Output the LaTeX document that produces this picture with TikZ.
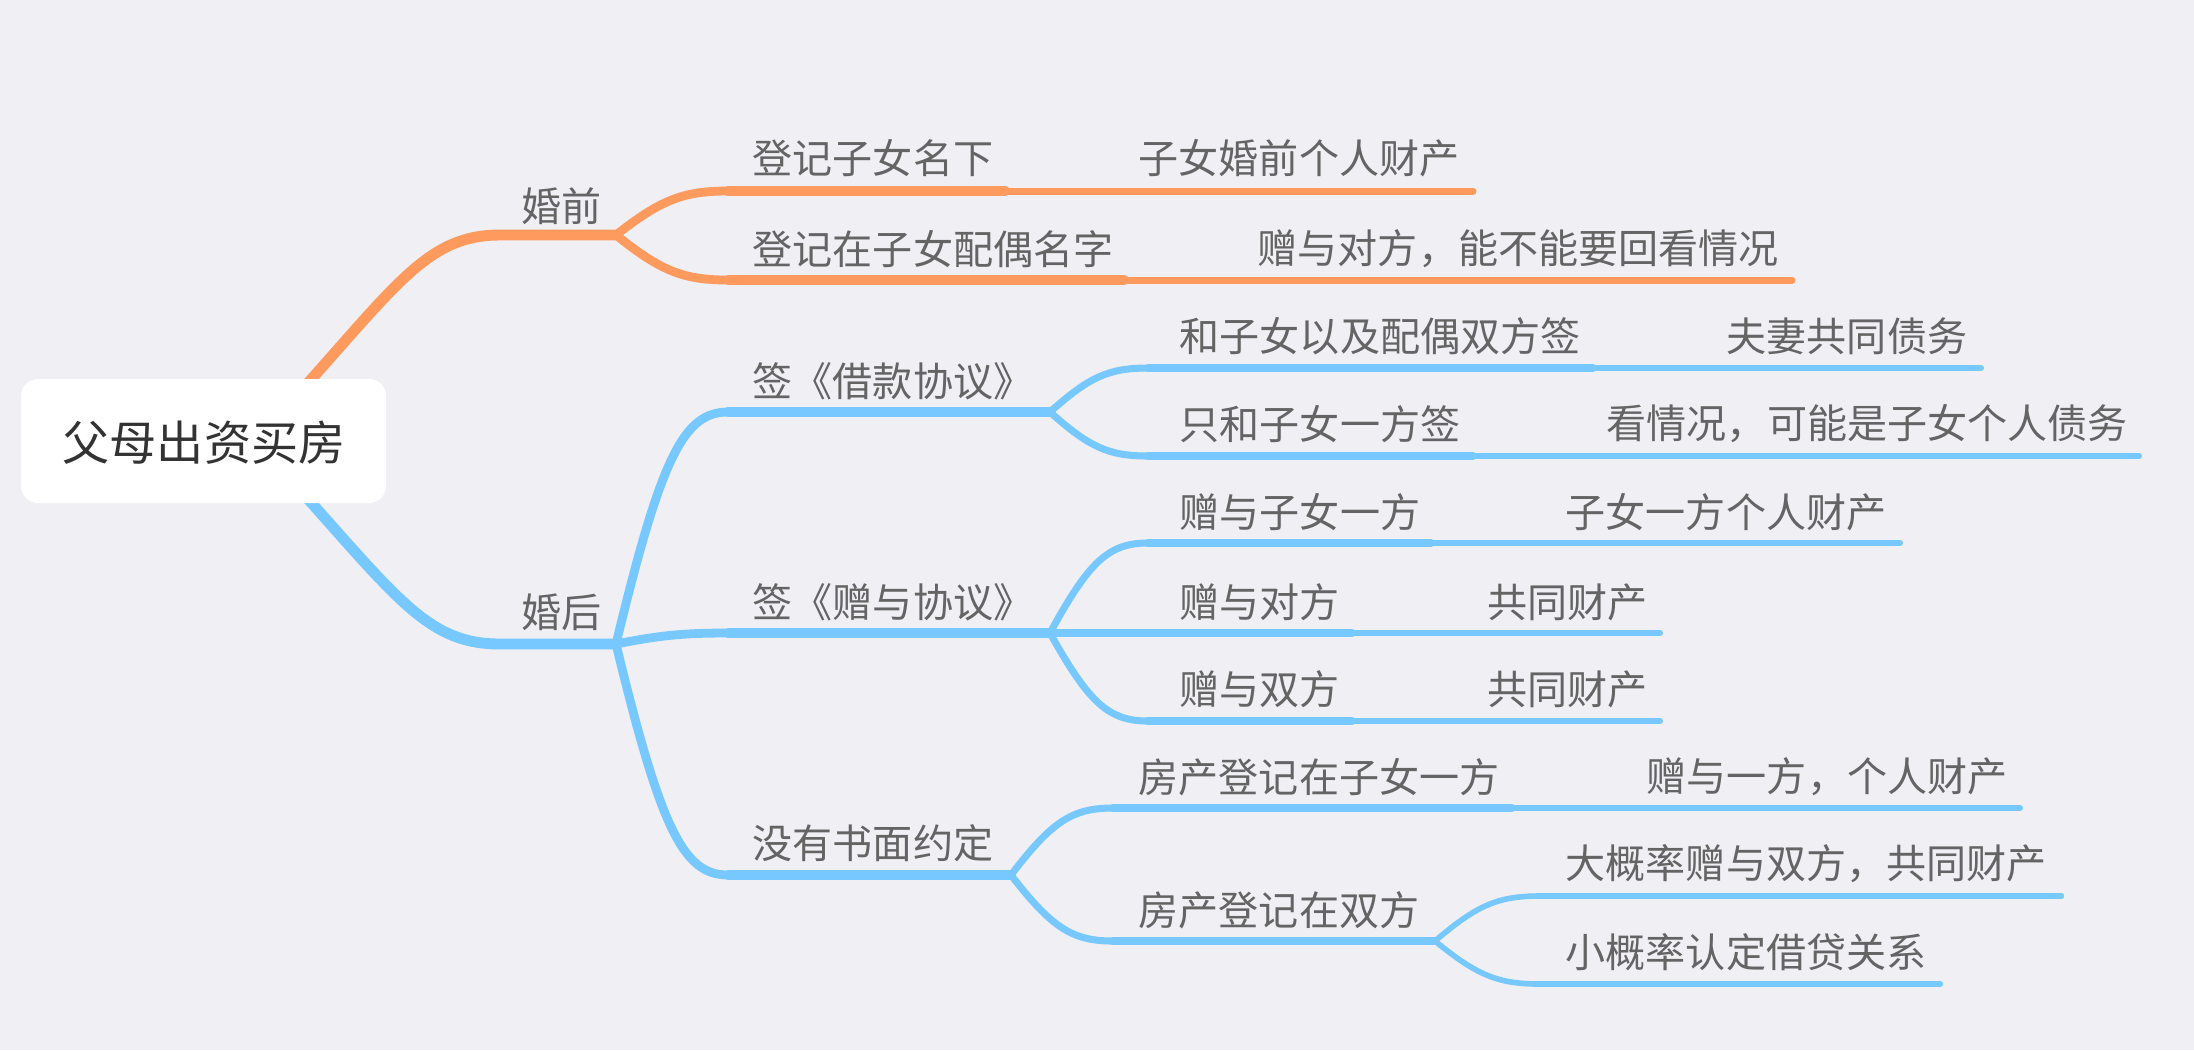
\documentclass[tikz,border=0pt]{standalone}
\usepackage{fontspec}
\setmainfont{Noto Sans CJK SC}
\usetikzlibrary{calc}
\definecolor{bg}{HTML}{EFEFF4}
\definecolor{org}{HTML}{FF9A5E}
\definecolor{blu}{HTML}{76C8FF}
\definecolor{txt}{HTML}{646464}
\definecolor{roottxt}{HTML}{333333}
\tikzset{
  conn/.style={to path={let \p1=(\tikztostart),\p2=(\tikztotarget) in
     .. controls ({\x1+0.4*(\x2-\x1)},{\y1+0.8*(\y2-\y1)}) and ({\x1+0.6*(\x2-\x1)},\y2) .. (\tikztotarget)}},
  lbl/.style={anchor=west,inner sep=0pt,text=txt,font=\fontsize{11.4pt}{13pt}\selectfont},
  rootbox/.style={fill=white,rounded corners=4.8pt,draw=none},
  wA/.style={line width=3.1pt,line cap=round},
  wB/.style={line width=2.5pt,line cap=round},
  wC/.style={line width=2.85pt,line cap=round},
  wD/.style={line width=2.0pt,line cap=round},
  wE/.style={line width=2.2pt,line cap=round},
  wF/.style={line width=2.0pt,line cap=round},
  wF2/.style={line width=1.7pt,line cap=round},
  wG/.style={line width=1.6pt,line cap=round},
  wH/.style={line width=1.85pt,line cap=round},
}
\begin{document}
\begin{tikzpicture}[x=0.01cm,y=-0.01cm]
\fill[bg] (0,0) rectangle (2194,1050);
\useasboundingbox (0,0) rectangle (2194,1050);

% coordinates
\coordinate (rO) at (300,392);
\coordinate (rB) at (300,490);
\coordinate (L1s) at (500,235); \coordinate (L1e) at (616,235);
\coordinate (L2s) at (500,644); \coordinate (L2e) at (616,644);

\coordinate (A1s) at (728,191); \coordinate (A1e) at (1005,191); \coordinate (A1Le) at (1473,191);
\coordinate (A2s) at (728,280); \coordinate (A2e) at (1124,280); \coordinate (A2Le) at (1792,280);

\coordinate (B1s) at (728,412); \coordinate (B1e) at (1050,412);
\coordinate (B2s) at (728,633); \coordinate (B2e) at (1050,633);
\coordinate (B3s) at (728,875); \coordinate (B3e) at (1011,875);

\coordinate (C1s) at (1148,368); \coordinate (C1e) at (1593,368); \coordinate (C1Le) at (1981,368);
\coordinate (C2s) at (1148,456); \coordinate (C2e) at (1473,456); \coordinate (C2Le) at (2139,456);
\coordinate (C3s) at (1148,543); \coordinate (C3e) at (1431,543); \coordinate (C3Le) at (1900,543);
\coordinate (C4e) at (1352,633); \coordinate (C4Le) at (1660,633);
\coordinate (C5s) at (1148,721); \coordinate (C5e) at (1352,721); \coordinate (C5Le) at (1660,721);
\coordinate (C6s) at (1113,808); \coordinate (C6e) at (1512,808); \coordinate (C6Le) at (2020,808);
\coordinate (C7s) at (1113,941); \coordinate (C7e) at (1435,941);
\coordinate (D1s) at (1540,896); \coordinate (D1e) at (2061,896);
\coordinate (D2s) at (1540,984); \coordinate (D2e) at (1940,984);

% root connectors
\draw[org,wA] (rO) .. controls (400,280) and (430,235) .. (L1s) -- (L1e);
\draw[blu,wA] (rB) .. controls (400,602) and (430,644) .. (L2s) -- (L2e);

% orange level 2
\draw[org,wB] (L1e) to[conn] (A1s);
\draw[org,wB] (L1e) to[conn] (A2s);
\draw[org,wC] (A1s) -- (A1e);
\draw[org,wC] (A2s) -- (A2e);
\draw[org,wF] (A1e) -- (A1Le);
\draw[org,wF] (A2e) -- (A2Le);

% blue level 2
\draw[blu,wB] (L2e) to[conn] (B1s);
\draw[blu,wB] (L2e) to[conn] (B2s);
\draw[blu,wB] (L2e) to[conn] (B3s);
\draw[blu,wC] (B1s) -- (B1e);
\draw[blu,wC] (B2s) -- (B2e);
\draw[blu,wC] (B3s) -- (B3e);

% level 3
\draw[blu,wD] (B1e) to[conn] (C1s);
\draw[blu,wD] (B1e) to[conn] (C2s);
\draw[blu,wD] (B2e) to[conn] (C3s);
\draw[blu,wD] (B2e) to[conn] (C5s);
\draw[blu,wD] (B3e) to[conn] (C6s);
\draw[blu,wD] (B3e) to[conn] (C7s);
\draw[blu,wE] (C1s) -- (C1e);
\draw[blu,wE] (C2s) -- (C2e);
\draw[blu,wE] (C3s) -- (C3e);
\draw[blu,wE] (B2e) -- (C4e);
\draw[blu,wE] (C5s) -- (C5e);
\draw[blu,wE] (C6s) -- (C6e);
\draw[blu,wE] (C7s) -- (C7e);
\draw[blu,wF2] (C1e) -- (C1Le);
\draw[blu,wF2] (C2e) -- (C2Le);
\draw[blu,wF2] (C3e) -- (C3Le);
\draw[blu,wF2] (C4e) -- (C4Le);
\draw[blu,wF2] (C5e) -- (C5Le);
\draw[blu,wF2] (C6e) -- (C6Le);

% level 4
\draw[blu,wG] (C7e) to[conn] (D1s);
\draw[blu,wG] (C7e) to[conn] (D2s);
\draw[blu,wH] (D1s) -- (D1e);
\draw[blu,wH] (D2s) -- (D2e);

% root
\fill[rootbox] (21,379) rectangle (386,503);
\node[inner sep=0pt,text=roottxt,font=\fontsize{13.4pt}{15pt}\selectfont] (root) at (204,443) {父母出资买房};

% labels
\node[lbl] (n1) at (521,206) {婚前};
\node[lbl] (n2) at (521,612) {婚后};
\node[lbl] (a1) at (752,158) {登记子女名下};
\node[lbl] (a1l) at (1138,158) {子女婚前个人财产};
\node[lbl] (a2) at (752,249) {登记在子女配偶名字};
\node[lbl] (a2l) at (1257,249) {赠与对方，能不能要回看情况};
\node[lbl] (b1) at (752,381) {签《借款协议》};
\node[lbl] (b2) at (752,602) {签《赠与协议》};
\node[lbl] (b3) at (752,843) {没有书面约定};
\node[lbl] (c1) at (1179,336) {和子女以及配偶双方签};
\node[lbl] (c1l) at (1726,336) {夫妻共同债务};
\node[lbl] (c2) at (1179,424) {只和子女一方签};
\node[lbl] (c2l) at (1606,424) {看情况，可能是子女个人债务};
\node[lbl] (c3) at (1179,512) {赠与子女一方};
\node[lbl] (c3l) at (1565,512) {子女一方个人财产};
\node[lbl] (c4) at (1179,602) {赠与对方};
\node[lbl] (c4l) at (1487,602) {共同财产};
\node[lbl] (c5) at (1179,689) {赠与双方};
\node[lbl] (c5l) at (1487,689) {共同财产};
\node[lbl] (c6) at (1138,777) {房产登记在子女一方};
\node[lbl] (c6l) at (1646,777) {赠与一方，个人财产};
\node[lbl] (c7) at (1138,910) {房产登记在双方};
\node[lbl] (d1) at (1565,864) {大概率赠与双方，共同财产};
\node[lbl] (d2) at (1565,952) {小概率认定借贷关系};
\end{tikzpicture}
\end{document}
